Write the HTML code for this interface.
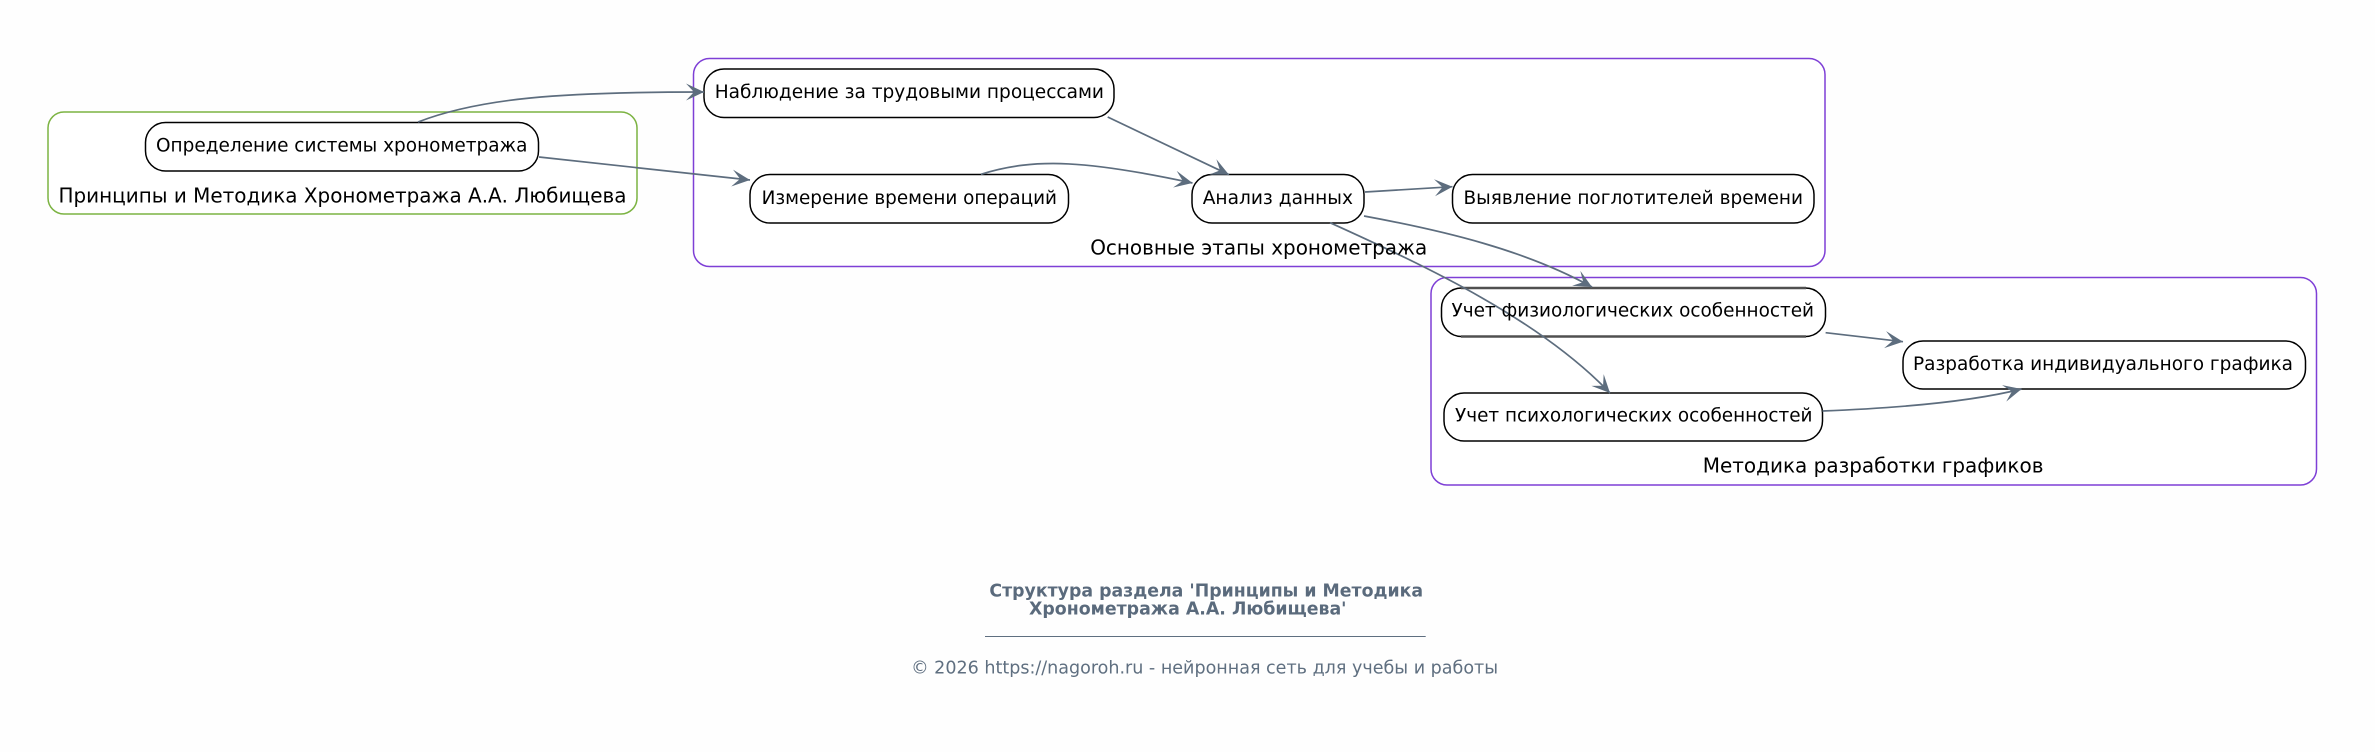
<!DOCTYPE html>
<html lang="ru">
<head>
<meta charset="utf-8">
<title>Структура раздела</title>
<style>
html,body{margin:0;padding:0;background:#fefefe;width:2375px;height:752px;overflow:hidden}
svg{display:block}
text{font-family:"DejaVu Sans","Liberation Sans",sans-serif;fill:#000}
.n{font-size:18.9px}
.c{font-size:20.6px}
.t{font-size:17.6px;font-weight:bold;fill:#5a6a7c}
.f{font-size:17.6px;fill:#5f6f80}
.node{fill:#fff;stroke:#000;stroke-width:1.5}
.edge{fill:none;stroke:#5d6d7e;stroke-width:1.7;marker-end:url(#a)}
</style>
</head>
<body>
<svg width="2375" height="752" viewBox="0 0 2375 752" xmlns="http://www.w3.org/2000/svg">
<defs>
<marker id="a" markerUnits="userSpaceOnUse" markerWidth="24" markerHeight="24" refX="20" refY="12" orient="auto">
<path d="M20,12 L2,3.5 L10,12 L2,20.5 Z" fill="#5d6d7e"/>
</marker>
</defs>
<rect x="0" y="0" width="2375" height="752" fill="#fefefe"/>

<!-- clusters -->
<rect x="48" y="112" width="589" height="102" rx="16" ry="16" fill="#fff" stroke="#7cb342" stroke-width="1.5"/>
<rect x="693.5" y="58.5" width="1131.5" height="208" rx="16" ry="16" fill="#fff" stroke="#7e3fd6" stroke-width="1.5"/>
<rect x="1431" y="277.5" width="885.5" height="207.5" rx="16" ry="16" fill="#fff" stroke="#7e3fd6" stroke-width="1.5"/>

<!-- nodes -->
<rect class="node" x="145.5" y="122.5" width="393" height="48.5" rx="20" ry="20"/>
<rect class="node" x="704" y="69" width="410" height="48.5" rx="20" ry="20"/>
<rect class="node" x="750" y="174.5" width="318.5" height="48.5" rx="20" ry="20"/>
<rect class="node" x="1192" y="174.5" width="172" height="48.5" rx="20" ry="20"/>
<rect class="node" x="1452.5" y="174.5" width="361.5" height="48.5" rx="20" ry="20"/>
<rect class="node" x="1441.5" y="288" width="384" height="48.5" rx="20" ry="20"/>
<line x1="1461" y1="288" x2="1806" y2="288" stroke="#505050" stroke-width="2.4"/>
<line x1="1461" y1="336.5" x2="1806" y2="336.5" stroke="#505050" stroke-width="2.4"/>
<rect class="node" x="1444" y="393" width="378.5" height="48" rx="20" ry="20"/>
<rect class="node" x="1903" y="341" width="402.5" height="48" rx="20" ry="20"/>

<!-- edges -->
<path class="edge" d="M418,122 C480,98 560,92 704,92"/>
<path class="edge" d="M539,157 L750,180"/>
<path class="edge" d="M1107.7,117 L1229,174.7"/>
<path class="edge" d="M981,174.3 C1035,157 1090,161 1192.5,183"/>
<path class="edge" d="M1365,192 L1452.5,186.7"/>
<path class="edge" d="M1364,216 C1445,231 1525,250 1592,287"/>
<path class="edge" d="M1330,222.7 C1430,268 1540,320 1610,393"/>
<path class="edge" d="M1825.6,332.7 L1903,341.7"/>
<path class="edge" d="M1822.5,411 C1900,408 1970,402 2021.6,389"/>

<!-- node labels -->
<text class="n" x="156" y="151.5" textLength="371.5" lengthAdjust="spacingAndGlyphs">Определение системы хронометража</text>
<text class="n" x="714.7" y="98" textLength="389.3" lengthAdjust="spacingAndGlyphs">Наблюдение за трудовыми процессами</text>
<text class="n" x="761.6" y="204" textLength="295.4" lengthAdjust="spacingAndGlyphs">Измерение времени операций</text>
<text class="n" x="1202.7" y="204" textLength="150.3" lengthAdjust="spacingAndGlyphs">Анализ данных</text>
<text class="n" x="1463.5" y="204" textLength="339.5" lengthAdjust="spacingAndGlyphs">Выявление поглотителей времени</text>
<text class="n" x="1451.5" y="316.5" textLength="362.5" lengthAdjust="spacingAndGlyphs">Учет физиологических особенностей</text>
<text class="n" x="1455" y="421.5" textLength="357.5" lengthAdjust="spacingAndGlyphs">Учет психологических особенностей</text>
<text class="n" x="1913" y="370" textLength="380" lengthAdjust="spacingAndGlyphs">Разработка индивидуального графика</text>

<!-- cluster labels -->
<text class="c" x="58.5" y="202.5" textLength="568" lengthAdjust="spacingAndGlyphs">Принципы и Методика Хронометража А.А. Любищева</text>
<text class="c" x="1090.2" y="254.5" textLength="337" lengthAdjust="spacingAndGlyphs">Основные этапы хронометража</text>
<text class="c" x="1702.7" y="472.5" textLength="340.8" lengthAdjust="spacingAndGlyphs">Методика разработки графиков</text>

<!-- footer -->
<text class="t" x="989.4" y="596.5" textLength="433.7" lengthAdjust="spacingAndGlyphs">Структура раздела 'Принципы и Методика</text>
<text class="t" x="1029" y="614.5" textLength="317.5" lengthAdjust="spacingAndGlyphs">Хронометража А.А. Любищева'</text>
<line x1="985" y1="636.5" x2="1425.7" y2="636.5" stroke="#5f6f80" stroke-width="1"/>
<text class="f" x="911.1" y="673.5" textLength="587" lengthAdjust="spacingAndGlyphs">© 2026 https://nagoroh.ru - нейронная сеть для учебы и работы</text>
</svg>
</body>
</html>
